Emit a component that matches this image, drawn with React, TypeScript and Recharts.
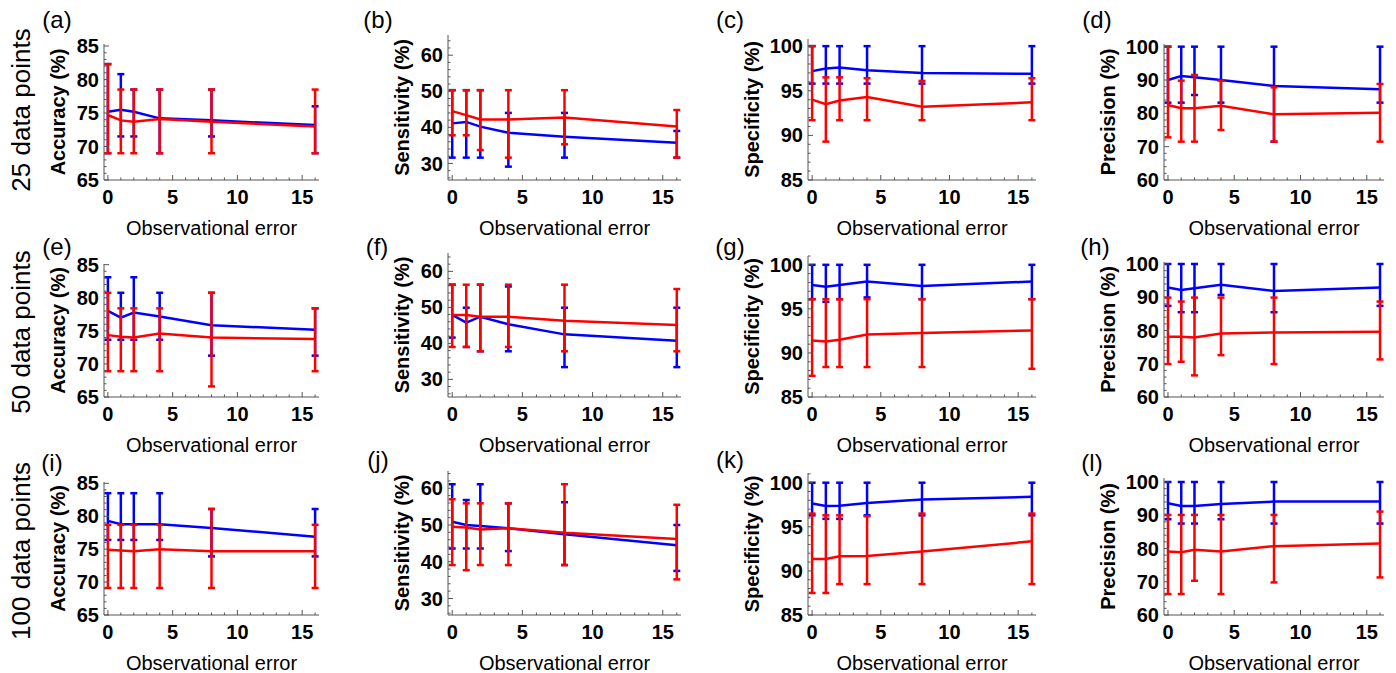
import { ErrorBar, Line, LineChart, XAxis, YAxis } from "recharts";

// observational error levels (x)
const ERR_X = [0, 1, 2, 4, 8, 16];

// (a) 25 pts accuracy
const BLUE_A = [75.2, 75.5, 75.2, 74.2, 73.9, 73.2];
const BLUE_A_LO = [69.0, 71.5, 71.5, 69.0, 71.5, 69.0];
const BLUE_A_HI = [82.3, 80.8, 78.5, 78.5, 78.5, 76.0];
const RED_A = [74.7, 73.9, 73.7, 74.1, 73.7, 73.0];
const RED_A_LO = [69.0, 69.0, 69.0, 69.0, 69.0, 69.0];
const RED_A_HI = [82.3, 78.5, 78.5, 78.5, 78.5, 78.5];

// (b) 25 pts sensitivity
const BLUE_B = [41.1, 41.5, 40.2, 38.5, 37.4, 35.7];
const BLUE_B_LO = [31.6, 31.6, 31.6, 29.1, 31.6, 31.6];
const BLUE_B_HI = [50.3, 50.3, 50.3, 44.0, 44.0, 39.0];
const RED_B = [44.5, 43.4, 42.2, 42.2, 42.7, 40.2];
const RED_B_LO = [37.8, 37.8, 33.7, 31.6, 35.3, 31.6];
const RED_B_HI = [50.3, 50.3, 50.3, 50.3, 50.3, 44.8];

// (c) 25 pts specificity
const BLUE_C = [97.2, 97.5, 97.6, 97.3, 97.0, 96.9];
const BLUE_C_LO = [95.8, 95.8, 95.8, 95.8, 95.8, 95.8];
const BLUE_C_HI = [100, 100, 100, 100, 100, 100];
const RED_C = [94.0, 93.5, 93.9, 94.3, 93.2, 93.7];
const RED_C_LO = [91.7, 89.3, 91.7, 91.7, 91.7, 91.7];
const RED_C_HI = [100, 96.5, 96.5, 96.4, 96.1, 96.4];

// (d) 25 pts precision
const BLUE_D = [90.0, 91.2, 90.8, 90.0, 88.2, 87.2];
const BLUE_D_LO = [83.2, 83.2, 85.5, 83.2, 71.5, 83.2];
const BLUE_D_HI = [100, 100, 100, 100, 100, 100];
const RED_D = [82.5, 81.5, 81.5, 82.3, 79.7, 80.2];
const RED_D_LO = [72.8, 71.5, 71.5, 75.0, 71.5, 71.5];
const RED_D_HI = [100, 89.8, 91.5, 89.8, 87.8, 88.8];

// (e) 50 pts accuracy
const BLUE_E = [78.0, 77.0, 77.75, 77.15, 75.85, 75.15];
const BLUE_E_LO = [73.65, 73.65, 73.65, 73.65, 71.25, 71.25];
const BLUE_E_HI = [83.1, 80.75, 83.1, 80.75, 80.75, 78.4];
const RED_E = [74.35, 74.1, 74.0, 74.6, 74.0, 73.75];
const RED_E_LO = [68.9, 68.9, 68.9, 68.9, 66.6, 68.9];
const RED_E_HI = [80.75, 78.4, 78.4, 78.4, 80.75, 78.4];

// (f) 50 pts sensitivity
const BLUE_F = [47.9, 45.75, 47.4, 45.3, 42.5, 40.7];
const BLUE_F_LO = [41.6, 39.0, 37.8, 37.8, 33.4, 33.4];
const BLUE_F_HI = [56.3, 49.9, 56.3, 55.8, 49.9, 49.9];
const RED_F = [47.9, 47.9, 47.4, 47.4, 46.3, 45.1];
const RED_F_LO = [39.0, 39.0, 37.8, 39.0, 37.8, 37.8];
const RED_F_HI = [56.3, 56.3, 56.3, 56.3, 56.3, 55.1];

// (g) 50 pts specificity
const BLUE_G = [97.7, 97.5, 97.7, 98.1, 97.6, 98.1];
const BLUE_G_LO = [96.1, 95.8, 96.1, 96.3, 96.1, 96.1];
const BLUE_G_HI = [100, 100, 100, 100, 100, 100];
const RED_G = [91.4, 91.3, 91.5, 92.1, 92.25, 92.55];
const RED_G_LO = [87.4, 88.4, 88.4, 88.4, 88.4, 88.2];
const RED_G_HI = [96.1, 96.1, 96.1, 96.1, 96.1, 96.1];

// (h) 50 pts precision
const BLUE_H = [92.9, 92.2, 92.7, 93.75, 91.9, 92.9];
const BLUE_H_LO = [87.4, 85.5, 85.5, 90.7, 85.5, 87.4];
const BLUE_H_HI = [100, 100, 100, 100, 100, 100];
const RED_H = [78.1, 78.1, 77.9, 79.1, 79.4, 79.6];
const RED_H_LO = [69.9, 70.6, 66.5, 72.6, 69.9, 71.3];
const RED_H_HI = [89.9, 88.7, 89.9, 89.9, 89.9, 88.7];

// (i) 100 pts accuracy
const BLUE_I = [79.3, 78.8, 78.8, 78.8, 78.2, 76.9];
const BLUE_I_LO = [76.4, 76.4, 76.4, 76.4, 73.9, 73.9];
const BLUE_I_HI = [83.5, 83.5, 83.5, 83.5, 81.1, 81.1];
const RED_I = [74.9, 74.8, 74.7, 75.0, 74.7, 74.7];
const RED_I_LO = [69.1, 69.1, 69.1, 69.1, 69.1, 69.1];
const RED_I_HI = [78.7, 78.7, 78.7, 78.7, 81.1, 78.7];

// (j) 100 pts sensitivity
const BLUE_J = [50.9, 50.0, 49.7, 49.1, 47.5, 44.5];
const BLUE_J_LO = [43.6, 43.6, 43.6, 42.9, 39.1, 37.5];
const BLUE_J_HI = [61.1, 56.8, 61.1, 55.9, 56.2, 50.0];
const RED_J = [49.5, 49.3, 48.8, 49.1, 47.9, 46.2];
const RED_J_LO = [39.1, 37.7, 39.1, 39.1, 39.1, 35.2];
const RED_J_HI = [57.0, 55.9, 55.9, 55.9, 61.1, 55.5];

// (k) 100 pts specificity
const BLUE_K = [97.65, 97.35, 97.4, 97.7, 98.1, 98.4];
const BLUE_K_LO = [96.3, 95.9, 95.9, 96.3, 96.3, 96.3];
const BLUE_K_HI = [100, 100, 100, 100, 100, 100];
const RED_K = [91.35, 91.35, 91.65, 91.7, 92.2, 93.35];
const RED_K_LO = [87.5, 87.5, 88.5, 88.5, 88.5, 88.5];
const RED_K_HI = [96.5, 96.3, 96.3, 96.2, 96.5, 96.5];

// (l) 100 pts precision
const BLUE_L = [93.6, 92.8, 92.8, 93.4, 94.1, 94.1];
const BLUE_L_LO = [88.8, 87.5, 87.5, 88.8, 87.5, 87.5];
const BLUE_L_HI = [100, 100, 100, 100, 100, 100];
const RED_L = [79.1, 78.9, 79.6, 79.1, 80.7, 81.5];
const RED_L_LO = [66.3, 66.3, 70.3, 66.3, 69.8, 71.3];
const RED_L_HI = [90.1, 90.1, 90.1, 90.1, 90.1, 91.1];

// tick labels
const X_TICKS = [0, 5, 10, 15];
const ACC_TICKS = [65, 70, 75, 80, 85];
const SENS_TICKS = [30, 40, 50, 60];
const SPEC_TICKS = [85, 90, 95, 100];
const PREC_TICKS = [60, 70, 80, 90, 100];

const ROW_TITLES = ["25 data points", "50 data points", "100 data points"];

const FONT = "Arial, 'Liberation Sans', Helvetica, sans-serif";
const BLUE = "#0000FF";
const RED = "#FF0000";
const FRAME = "#555555";
const X_DOMAIN = [-0.3, 16.3];

function buildRows(b, bLo, bHi, r, rLo, rHi) {
  return ERR_X.map((x, i) => ({
    x,
    blue: b[i],
    blueErr: [b[i] - bLo[i], bHi[i] - b[i]],
    red: r[i],
    redErr: [r[i] - rLo[i], rHi[i] - r[i]],
  }));
}

function steps(lo, hi, step) {
  const out = [];
  for (let v = Math.ceil(lo / step) * step; v <= hi + 1e-9; v += step) out.push(Math.round(v * 1000) / 1000);
  return out;
}

const ACC = { label: "Accuracy (%)", ticks: ACC_TICKS, minor: 1, yW: 92 };
const SENS = { label: "Sensitivity (%)", ticks: SENS_TICKS, minor: 2, yW: 92 };
const SPEC = { label: "Specificity (%)", ticks: SPEC_TICKS, minor: 1, yW: 112 };
const PREC = { label: "Precision (%)", ticks: PREC_TICKS, minor: 2, yW: 112 };

const PANELS = [
  { tag: "(a)", tx: 57, ty: 20, kind: ACC, f: { l: 104, r: 319, t: 44, b: 180 }, dom: [65, 85.3], rows: buildRows(BLUE_A, BLUE_A_LO, BLUE_A_HI, RED_A, RED_A_LO, RED_A_HI) },
  { tag: "(b)", tx: 378, ty: 20, kind: SENS, f: { l: 448, r: 681, t: 35, b: 180 }, dom: [25.4, 65.6], rows: buildRows(BLUE_B, BLUE_B_LO, BLUE_B_HI, RED_B, RED_B_LO, RED_B_HI) },
  { tag: "(c)", tx: 730, ty: 20, kind: SPEC, f: { l: 808, r: 1036, t: 39, b: 180 }, dom: [85, 100.8], rows: buildRows(BLUE_C, BLUE_C_LO, BLUE_C_HI, RED_C, RED_C_LO, RED_C_HI) },
  { tag: "(d)", tx: 1097, ty: 20, kind: PREC, f: { l: 1164, r: 1384, t: 44, b: 180 }, dom: [60, 100.8], rows: buildRows(BLUE_D, BLUE_D_LO, BLUE_D_HI, RED_D, RED_D_LO, RED_D_HI) },
  { tag: "(e)", tx: 57, ty: 247, kind: ACC, f: { l: 104, r: 319, t: 264, b: 397 }, dom: [65, 85.1], rows: buildRows(BLUE_E, BLUE_E_LO, BLUE_E_HI, RED_E, RED_E_LO, RED_E_HI) },
  { tag: "(f)", tx: 377, ty: 247, kind: SENS, f: { l: 448, r: 681, t: 253, b: 397 }, dom: [25.1, 65.1], rows: buildRows(BLUE_F, BLUE_F_LO, BLUE_F_HI, RED_F, RED_F_LO, RED_F_HI) },
  { tag: "(g)", tx: 730, ty: 247, kind: SPEC, f: { l: 808, r: 1036, t: 256, b: 397 }, dom: [85, 101], rows: buildRows(BLUE_G, BLUE_G_LO, BLUE_G_HI, RED_G, RED_G_LO, RED_G_HI) },
  { tag: "(h)", tx: 1095, ty: 247, kind: PREC, f: { l: 1164, r: 1384, t: 262, b: 397 }, dom: [60, 100.6], rows: buildRows(BLUE_H, BLUE_H_LO, BLUE_H_HI, RED_H, RED_H_LO, RED_H_HI) },
  { tag: "(i)", tx: 52, ty: 463, kind: ACC, f: { l: 104, r: 319, t: 482, b: 615 }, dom: [65, 85.2], rows: buildRows(BLUE_I, BLUE_I_LO, BLUE_I_HI, RED_I, RED_I_LO, RED_I_HI) },
  { tag: "(j)", tx: 378, ty: 460, kind: SENS, f: { l: 448, r: 681, t: 471, b: 615 }, dom: [25.5, 64.7], rows: buildRows(BLUE_J, BLUE_J_LO, BLUE_J_HI, RED_J, RED_J_LO, RED_J_HI) },
  { tag: "(k)", tx: 730, ty: 460, kind: SPEC, f: { l: 808, r: 1036, t: 473, b: 615 }, dom: [85, 101.1], rows: buildRows(BLUE_K, BLUE_K_LO, BLUE_K_HI, RED_K, RED_K_LO, RED_K_HI) },
  { tag: "(l)", tx: 1092, ty: 463, kind: PREC, f: { l: 1164, r: 1384, t: 478, b: 615 }, dom: [60, 101.2], rows: buildRows(BLUE_L, BLUE_L_LO, BLUE_L_HI, RED_L, RED_L_LO, RED_L_HI) },
];

const ROW_CENTERS = [110, 332, 551];

// frame ticks point inward; labels only on bottom/left majors
function edgeTick(side, major, margin) {
  return (props) => {
    const { x, y, payload } = props;
    const v = payload.value;
    const isMajor = major.some((m) => Math.abs(m - v) < 1e-6);
    const len = isMajor ? 5 : 2.5;
    let ln;
    if (side === "bottom") ln = { x1: x, x2: x, y1: y - margin, y2: y - margin - len };
    else if (side === "left") ln = { x1: x + margin, x2: x + margin + len, y1: y, y2: y };
    else if (side === "top") ln = { x1: x, x2: x, y1: y, y2: y + len };
    else ln = { x1: x, x2: x - len, y1: y, y2: y };
    const showText = isMajor && (side === "bottom" || side === "left");
    return (
      <g>
        <line {...ln} stroke={FRAME} strokeWidth={1} />
        {showText && (
          <text
            x={x}
            y={y}
            dy={side === "bottom" ? "0.71em" : "0.355em"}
            textAnchor={side === "bottom" ? "middle" : "end"}
            fontSize={20}
            fontWeight={700}
            fontFamily={FONT}
            fill="#000"
          >
            {v}
          </text>
        )}
      </g>
    );
  };
}

function Panel({ p }) {
  const { f, kind } = p;
  const mt = 14;
  const mr = 6;
  const xH = 62;
  const w = kind.yW + (f.r - f.l) + mr;
  const h = mt + (f.b - f.t) + xH;
  const xMinor = steps(0, 16, 1);
  const yMinor = steps(p.dom[0], p.dom[1], kind.minor);
  return (
    <div style={{ position: "absolute", left: f.l - kind.yW, top: f.t - mt }}>
      <LineChart width={w} height={h} data={p.rows} margin={{ top: mt, right: mr, bottom: 0, left: 0 }}>
        <XAxis
          xAxisId="b"
          dataKey="x"
          type="number"
          domain={X_DOMAIN}
          allowDataOverflow
          ticks={xMinor}
          interval={0}
          height={xH}
          tickSize={0}
          tickMargin={10}
          tickLine={false}
          axisLine={{ stroke: FRAME, strokeWidth: 1 }}
          tick={edgeTick("bottom", X_TICKS, 10)}
          label={{ value: "Observational error", position: "insideBottom", offset: 7, fontSize: 20, fill: "#000", fontFamily: FONT }}
        />
        <XAxis
          xAxisId="t"
          dataKey="x"
          type="number"
          orientation="top"
          domain={X_DOMAIN}
          allowDataOverflow
          ticks={xMinor}
          interval={0}
          height={0}
          tickSize={0}
          tickMargin={0}
          tickLine={false}
          axisLine={{ stroke: FRAME, strokeWidth: 1 }}
          tick={edgeTick("top", X_TICKS, 0)}
        />
        <YAxis
          yAxisId="l"
          type="number"
          domain={p.dom}
          allowDataOverflow
          ticks={yMinor}
          interval={0}
          width={kind.yW}
          tickSize={0}
          tickMargin={5}
          tickLine={false}
          axisLine={{ stroke: FRAME, strokeWidth: 1 }}
          tick={edgeTick("left", kind.ticks, 5)}
          label={{ value: kind.label, angle: -90, position: "center", fontSize: 20, fontWeight: 700, fill: "#000", fontFamily: FONT }}
        />
        <YAxis
          yAxisId="r"
          type="number"
          orientation="right"
          domain={p.dom}
          allowDataOverflow
          ticks={yMinor}
          interval={0}
          width={0}
          tickSize={0}
          tickMargin={0}
          tickLine={false}
          axisLine={{ stroke: FRAME, strokeWidth: 1 }}
          tick={edgeTick("right", kind.ticks, 0)}
        />
        <Line
          xAxisId="b"
          yAxisId="l"
          type="linear"
          dataKey="blue"
          stroke={BLUE}
          strokeWidth={2.5}
          dot={false}
          activeDot={false}
          isAnimationActive={false}
        >
          <ErrorBar dataKey="blueErr" direction="y" width={3.5} stroke={BLUE} strokeWidth={2.5} isAnimationActive={false} />
        </Line>
        <Line
          xAxisId="b"
          yAxisId="l"
          type="linear"
          dataKey="red"
          stroke={RED}
          strokeWidth={2.5}
          dot={false}
          activeDot={false}
          isAnimationActive={false}
        >
          <ErrorBar dataKey="redErr" direction="y" width={3.5} stroke={RED} strokeWidth={2.5} isAnimationActive={false} />
        </Line>
      </LineChart>
    </div>
  );
}

export default function App() {
  return (
    <div
      style={{
        position: "absolute",
        left: 0,
        top: 0,
        width: 1396,
        height: 673,
        background: "#fff",
        fontFamily: FONT,
        overflow: "hidden",
      }}
    >
      {ROW_TITLES.map((t, i) => (
        <div
          key={t}
          style={{
            position: "absolute",
            left: 21,
            top: ROW_CENTERS[i],
            transform: "translate(-50%, -50%) rotate(-90deg)",
            whiteSpace: "nowrap",
            fontSize: 26,
            lineHeight: 1,
            color: "#000",
          }}
        >
          {t}
        </div>
      ))}
      {PANELS.map((p) => (
        <Panel key={p.tag} p={p} />
      ))}
      {PANELS.map((p) => (
        <div
          key={"tag" + p.tag}
          style={{
            position: "absolute",
            left: p.tx,
            top: p.ty,
            transform: "translate(-50%, -50%)",
            fontSize: 24,
            lineHeight: 1,
            color: "#000",
          }}
        >
          {p.tag}
        </div>
      ))}
    </div>
  );
}
